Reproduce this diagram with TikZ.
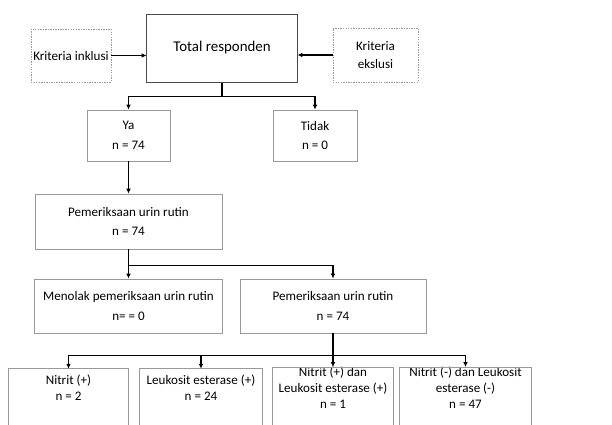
\documentclass[tikz,border=0pt]{standalone}
\usepackage{fontspec}
\setmainfont{Carlito}
\usepackage{tikz}
\usetikzlibrary{arrows.meta}
\tikzset{
rectnodev1/.style={rectangle, draw=black!40, fill=none, line width=0.6pt, inner sep=0pt, align=center, font=\fontsize{9.3}{14}\selectfont},
rectnodev2/.style={rectangle, draw=black!70, fill=none, line width=0.7pt, inner sep=0pt, align=center, minimum width=3.75cm, minimum height=1.7cm, font=\fontsize{10.6}{12}\selectfont},
dashnodev1/.style={rectangle, draw=black!40, dash pattern=on 1pt off 0.8pt, line width=0.6pt, inner sep=0pt, align=center, font=\fontsize{9.3}{12.8}\selectfont},
bottomnodev1/.style={rectangle, draw=none, inner sep=0pt, align=center, minimum height=0.95cm, font=\fontsize{9.3}{11.3}\selectfont},
boxline/.style={draw=black!40, line width=0.6pt},
arrowline/.style={line width=1.3pt, black, -{Latex[length=3.5pt,width=3.4pt]}},
plainline/.style={line width=1.3pt, black},
}

\begin{document}
\begin{tikzpicture}[x=0.025cm,y=-0.025cm]
    \clip (0,0) rectangle (612,424);
    % top row
    \node[dashnodev1, minimum width=2cm, minimum height=1.325cm] at (71,55.5) (inkl) {Kriteria inklusi};
    \node[rectnodev2] at (222,48) (total) {Total responden};
    \node[dashnodev1, minimum width=2.125cm, minimum height=1.35cm] at (375.5,55) (eksl) {Kriteria\\ekslusi};
    \draw[arrowline] (inkl.east) -- (inkl.east -| total.west);
    \draw[arrowline] (eksl.west) -- (eksl.west -| total.east);
    % ya / tidak
    \node[rectnodev1, minimum width=2.075cm, minimum height=1.275cm] at (128.5,135.5) (ya) {Ya\\n = 74};
    \node[rectnodev1, minimum width=2.1cm, minimum height=1.275cm] at (315,135.5) (tidak) {Tidak\\n = 0};
    \draw[plainline] (total.south) -- ++(0,14) coordinate (t1);
    \draw[arrowline] (t1) -| (ya.north);
    \draw[arrowline] (t1) -| (tidak.north);
    % pemeriksaan
    \node[rectnodev1, minimum width=4.675cm, minimum height=1.375cm] at (128.5,221.5) (pem1) {Pemeriksaan urin rutin\\n = 74};
    \draw[arrowline] (ya.south) -- (pem1.north);
    \node[rectnodev1, minimum width=4.7cm, minimum height=1.35cm] at (128.5,306) (tolak) {Menolak pemeriksaan urin rutin\\n= = 0};
    \node[rectnodev1, minimum width=4.65cm, minimum height=1.35cm] at (333,306) (pem2) {Pemeriksaan urin rutin\\n = 74};
    \draw[plainline] (pem1.south) -- ++(0,16) coordinate (t2);
    \draw[arrowline] (t2) -- (tolak.north);
    \draw[arrowline] (t2) -| (pem2.north);
    % hasil
    \node[bottomnodev1, minimum width=2.975cm] at (68.5,388) (nit) {Nitrit (+)\\n = 2};
    \node[bottomnodev1, minimum width=3.05cm] at (201,388) (leu) {Leukosit esterase (+)\\n = 24};
    \node[bottomnodev1, minimum width=3cm] at (333,388) (keduanya) {Nitrit (+) dan\\Leukosit esterase (+)\\n = 1};
    \node[bottomnodev1, minimum width=3.275cm] at (465.5,388) (negatif) {Nitrit (-) dan Leukosit\\esterase (-)\\n = 47};
    \foreach \b in {nit,leu,keduanya,negatif}
        \draw[boxline] ([yshift=-1.5cm]\b.south west) |- (\b.north east) -- ++(0,60);
    \draw[plainline] (pem2.south) -- ++(0,22) coordinate (t3);
    \foreach \b in {nit,leu,keduanya,negatif}
        \draw[arrowline] (t3) -| (\b.north);
\end{tikzpicture}
\end{document}
